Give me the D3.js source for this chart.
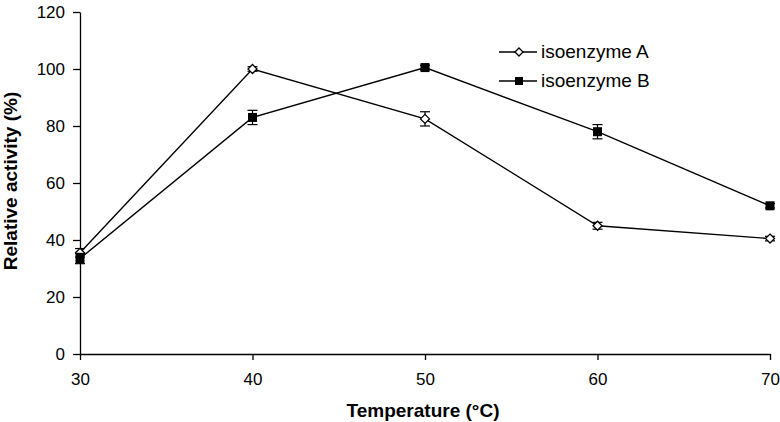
<!DOCTYPE html>
<html><head><meta charset="utf-8">
<script src="https://cdn.jsdelivr.net/npm/d3@7"></script>
<style>body{margin:0;background:#fff}svg{display:block}text{font-family:"Liberation Sans",Arial,sans-serif}</style>
</head><body><svg id="c" width="780" height="422"></svg>
<script>
const temps = [30, 40, 50, 60, 70];
const seriesA = [35.5, 100, 82.5, 45, 40.5];
const errA = [1.5, 0.8, 2.5, 1.2, 0.8];
const seriesB = [33.5, 83, 100.5, 78, 52];
const errB = [1.8, 2.5, 0.8, 2.5, 0.8];
const yTicks = [0, 20, 40, 60, 80, 100, 120];
const names = ["isoenzyme A", "isoenzyme B"];

const svg = d3.select("#c");
const x = d3.scaleLinear().domain([30, 70]).range([80, 770]);
const y = d3.scaleLinear().domain([0, 120]).range([354, 12]);

svg.append("g").attr("transform","translate(0,354)")
  .call(d3.axisBottom(x).tickValues(temps).tickSize(6).tickPadding(13).tickSizeOuter(0).tickFormat(d3.format("d")))
  .call(g=>g.select(".domain").attr("stroke","#000").attr("stroke-width",1.3))
  .call(g=>g.selectAll("line").attr("stroke-width",1.3))
  .call(g=>g.selectAll("text").attr("font-size",17).attr("fill","#000"));
svg.append("g").attr("transform","translate(80,0)")
  .call(d3.axisLeft(y).tickValues(yTicks).tickSize(7).tickPadding(8).tickSizeOuter(0))
  .call(g=>g.select(".domain").attr("stroke","#000").attr("stroke-width",1.3))
  .call(g=>g.selectAll("line").attr("stroke-width",1.3))
  .call(g=>g.selectAll("text").attr("font-size",17).attr("fill","#000"));

svg.append("text").attr("x",423).attr("y",417).attr("text-anchor","middle")
  .attr("font-size",19).attr("font-weight","bold").text("Temperature (°C)");
svg.append("text").attr("transform","translate(17,181) rotate(-90)").attr("text-anchor","middle")
  .attr("font-size",19).attr("font-weight","bold").text("Relative activity (%)");

const line = d3.line().x((d,i)=>x(temps[i])).y(d=>y(d));
const series = [{v:seriesA,e:errA,m:"diamond"},{v:seriesB,e:errB,m:"square"}];

series.forEach(s=>{
  svg.append("path").attr("d",line(s.v)).attr("fill","none").attr("stroke","#000").attr("stroke-width",1.4);
  s.v.forEach((v,i)=>{
    const cx=x(temps[i]);
    const g=svg.append("g").attr("stroke","#000").attr("stroke-width",1.2);
    g.append("line").attr("x1",cx).attr("x2",cx).attr("y1",y(v-s.e[i])).attr("y2",y(v+s.e[i]));
    [v-s.e[i],v+s.e[i]].forEach(t=>g.append("line").attr("x1",cx-5).attr("x2",cx+5).attr("y1",y(t)).attr("y2",y(t)));
  });
  s.v.forEach((v,i)=>{
    const cx=x(temps[i]), cy=y(v);
    if(s.m==="diamond"){
      svg.append("path").attr("d",`M${cx},${cy-4.5}L${cx+4.5},${cy}L${cx},${cy+4.5}L${cx-4.5},${cy}Z`)
        .attr("fill","#fff").attr("stroke","#000").attr("stroke-width",1.3);
    } else {
      svg.append("rect").attr("x",cx-4.5).attr("y",cy-4.5).attr("width",9).attr("height",9).attr("fill","#000");
    }
  });
});

// legend
names.forEach((n,i)=>{
  const ly = 52 + i*29;
  svg.append("line").attr("x1",499).attr("x2",537).attr("y1",ly).attr("y2",ly).attr("stroke","#000").attr("stroke-width",1.4);
  if(i===0){
    svg.append("path").attr("d",`M519,${ly-4}L523,${ly}L519,${ly+4}L515,${ly}Z`).attr("fill","#fff").attr("stroke","#000").attr("stroke-width",1.3);
  } else {
    svg.append("rect").attr("x",515).attr("y",ly-4).attr("width",8).attr("height",8).attr("fill","#000");
  }
  svg.append("text").attr("x",541).attr("y",ly+6).attr("font-size",19).text(n);
});
</script></body></html>
